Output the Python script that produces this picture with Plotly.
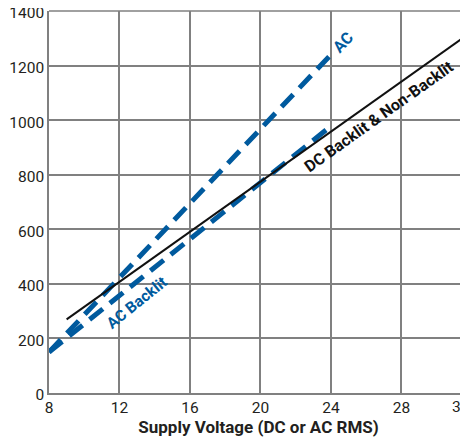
import plotly.graph_objects as go

# Data (Supply voltage V vs. value)
ac_voltage = [8, 24]
ac_value = [150, 1240]

ac_backlit_voltage = [8, 24]
ac_backlit_value = [150, 978]

dc_voltage = [9, 32]
dc_value = [270, 1325]

x_ticks = [8, 12, 16, 20, 24, 28]
y_ticks = [0, 200, 400, 600, 800, 1000, 1200, 1400]

BLUE = "#005a9e"
GRID = "#808080"
TXT = "#231f20"
FONT = "Roboto, Liberation Sans, sans-serif"
X_MAX = 31.78
Y_MAX = 1400

fig = go.Figure()
fig.add_trace(go.Scatter(x=ac_voltage, y=ac_value, mode="lines",
                         line=dict(color=BLUE, width=5, dash="17px,9px"),
                         hoverinfo="skip"))
fig.add_trace(go.Scatter(x=ac_backlit_voltage, y=ac_backlit_value, mode="lines",
                         line=dict(color=BLUE, width=5, dash="17px,9px"),
                         hoverinfo="skip"))
fig.add_trace(go.Scatter(x=dc_voltage, y=dc_value, mode="lines",
                         line=dict(color="#111111", width=2),
                         hoverinfo="skip"))

fig.add_annotation(x=24.69, y=1283, text="<b>AC</b>", showarrow=False,
                   textangle=-46, font=dict(family=FONT, size=16, color=BLUE))
fig.add_annotation(x=12.99, y=329, text="<b>AC Backlit</b>", showarrow=False,
                   textangle=-39, font=dict(family=FONT, size=15.5, color=BLUE))
fig.add_annotation(x=26.73, y=1012, text="<b>DC Backlit &amp; Non-Backlit</b>", showarrow=False,
                   textangle=-35.5, font=dict(family=FONT, size=16, color="#111111"))
# partially visible "32" tick label at the right edge
fig.add_annotation(xref="paper", yref="paper", x=(32 - 8) / (X_MAX - 8), y=0,
                   yanchor="top", yshift=-3, text="32", showarrow=False,
                   font=dict(family=FONT, size=15.5, color=TXT))
# top border of the plotting area (1400 grid line)
fig.add_shape(type="line", xref="paper", yref="paper", x0=0, x1=1, y0=1, y1=1,
              line=dict(color=GRID, width=1.5), layer="below")

fig.update_layout(
    width=460, height=431,
    margin=dict(l=41, r=0, t=3, b=46),
    paper_bgcolor="white", plot_bgcolor="white",
    showlegend=False,
    font=dict(family=FONT, size=15.5, color=TXT),
)
fig.update_xaxes(range=[8, X_MAX], tickvals=x_ticks, showgrid=True,
                 gridcolor=GRID, gridwidth=1.5, showline=True,
                 linecolor=GRID, linewidth=1.5, zeroline=False, ticks="",
                 automargin=False,
                 title=dict(text="<b>Supply Voltage (DC or AC RMS)</b>",
                            font=dict(family=FONT, size=17, color=TXT),
                            standoff=1))
fig.update_yaxes(range=[0, Y_MAX], tickvals=y_ticks, showgrid=True,
                 gridcolor=GRID, gridwidth=1.5, showline=True, linecolor=GRID,
                 linewidth=1.5, zeroline=False, ticks="", ticklabelstandoff=0,
                 ticklabelshift=2, ticklabeloverflow="allow", automargin=False)

fig.write_html("out.html")
